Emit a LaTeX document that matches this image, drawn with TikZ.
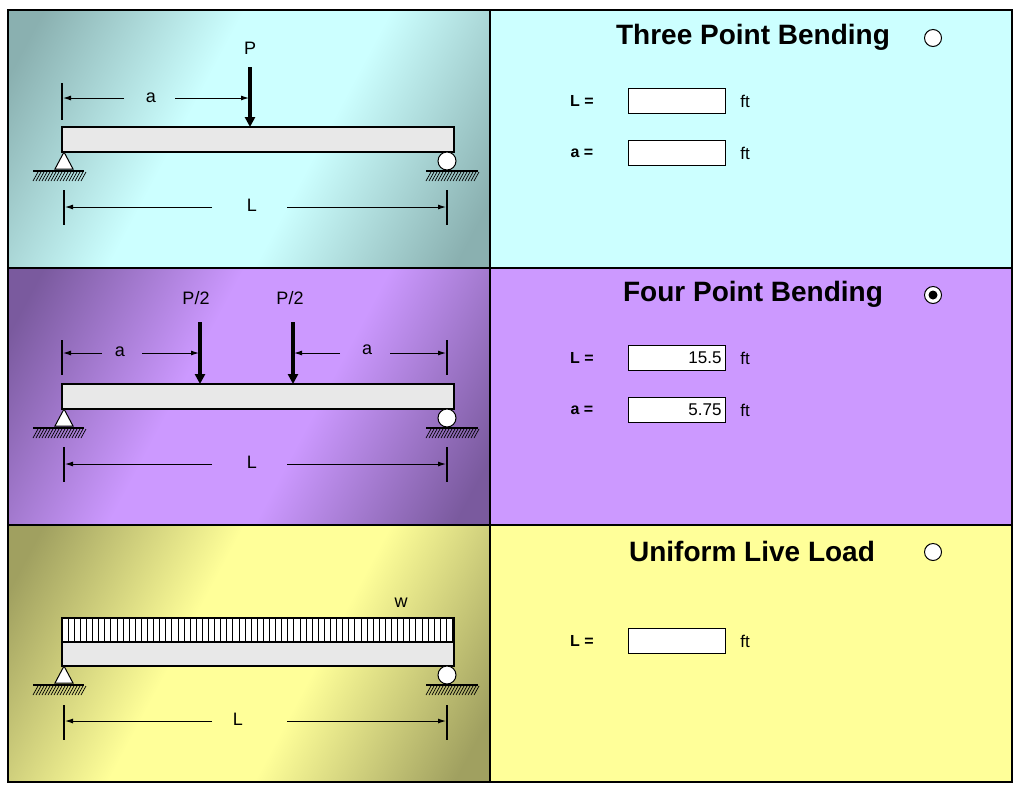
\documentclass[tikz,border=0pt]{standalone}
\usepackage{fontspec}
\setmainfont{Liberation Sans}
\usetikzlibrary{arrows.meta}
\definecolor{cyR}{HTML}{CCFFFF}
\definecolor{cyD}{HTML}{8AB0B0}
\definecolor{puR}{HTML}{CC99FF}
\definecolor{puD}{HTML}{7A5A9E}
\definecolor{yeR}{HTML}{FFFF99}
\definecolor{yeD}{HTML}{A0A060}
\pgfdeclarehorizontalshading{cyS}{100bp}{color(0bp)=(cyD); color(20bp)=(cyD); color(42bp)=(cyR); color(58bp)=(cyR); color(80bp)=(cyD); color(100bp)=(cyD)}
\pgfdeclarehorizontalshading{puS}{100bp}{color(0bp)=(puD); color(20bp)=(puD); color(42bp)=(puR); color(58bp)=(puR); color(80bp)=(puD); color(100bp)=(puD)}
\pgfdeclarehorizontalshading{yeS}{100bp}{color(0bp)=(yeD); color(20bp)=(yeD); color(42bp)=(yeR); color(58bp)=(yeR); color(80bp)=(yeD); color(100bp)=(yeD)}
\tikzset{
 beam/.style={draw=black,fill=gray!18,line width=1.2pt},
 dim/.style={line width=1pt,-{Latex[length=8pt,width=5pt]}},
 tick/.style={line width=1.2pt},
 load/.style={line width=4pt,-{Triangle[length=10pt,width=10pt]}},
 lbl/.style={font=\fontsize{18}{19}\selectfont,fill=none},
 title/.style={font=\bfseries\fontsize{28}{30}\selectfont},
 flab/.style={font=\bfseries\fontsize{16}{18}\selectfont},
 box/.style={draw=black,fill=white,line width=0.8pt,minimum width=97pt,minimum height=25pt,inner sep=3pt,font=\fontsize{17}{18}\selectfont},
 unit/.style={font=\fontsize{17}{18}\selectfont},
 radio/.style={circle,draw=black,fill=white,line width=1pt,minimum size=17pt,inner sep=0pt},
}
\newcommand{\pinsup}[2]{% x, y top
 \draw[fill=white,line width=1pt] (#1,#2) -- (#1-9,#2+17) -- (#1+9,#2+17) -- cycle;
 \draw[line width=1.2pt] (#1-31,#2+19) -- (#1+20,#2+19);
 \foreach \k in {0,...,16} \draw[line width=0.7pt] (#1-31+3*\k,#2+29) -- (#1-31+3*\k+5,#2+20);}
\newcommand{\rollsup}[2]{% x, y top
 \draw[fill=white,line width=1pt] (#1,#2+9) circle (9);
 \draw[line width=1.2pt] (#1-21,#2+19) -- (#1+31,#2+19);
 \foreach \k in {0,...,16} \draw[line width=0.7pt] (#1-21+3*\k,#2+29) -- (#1-21+3*\k+5,#2+20);}
\begin{document}
\begin{tikzpicture}[x=1pt,y=-1pt]
\useasboundingbox (0,0) rectangle (1024,796);
\fill[white] (0,0) rectangle (1024,796);
% backgrounds
\fill[cyR] (490,10) rectangle (1012,268);
\fill[puR] (490,268) rectangle (1012,525);
\fill[yeR] (490,525) rectangle (1012,782);
\shade[shading=cyS,shading angle=-28] (8,10) rectangle (490,268);
\shade[shading=puS,shading angle=-28] (8,268) rectangle (490,525);
\shade[shading=yeS,shading angle=-28] (8,525) rectangle (490,782);
\draw[line width=1.2pt] (8,10) rectangle (1012,782);
\draw[line width=1.5pt] (490,10) -- (490,782) (8,268) -- (1012,268) (8,525) -- (1012,525);
% ---- panel 1
\draw[beam] (62,127) rectangle (454,152);
\pinsup{64}{152}
\rollsup{447}{152}
\node[lbl] (P1) at (250,48) {P};
\coordinate (P1s) at (250,67); \coordinate (P1e) at (250,127);
\draw[load] (P1s) -- (P1e);
\draw[tick] (62,83) -- (62,120);
\node[lbl] (a1) at (151,98) {a};
\draw[dim] (124,98) -- (63,98);
\draw[dim] (175,98) -- (249,98);
\draw[tick] (64,190) -- (64,225) (447,190) -- (447,225);
\node[lbl] (L1) at (252,205) {L};
\draw[dim] (212,207) -- (65,207);
\draw[dim] (287,207) -- (446,207);
% ---- panel 2
\draw[beam] (62,384) rectangle (454,409);
\pinsup{64}{409}
\rollsup{447}{409}
\node[lbl] (P2a) at (196,298) {P/2};
\node[lbl] (P2b) at (290,298) {P/2};
\draw[load] (200,322) -- (200,384);
\draw[load] (293,322) -- (293,384);
\draw[tick] (62,340) -- (62,375) (447,340) -- (447,375);
\node[lbl] (a2) at (120,352) {a};
\draw[dim] (102,353) -- (63,353);
\draw[dim] (142,353) -- (199,353);
\node[lbl] (a3) at (367,350) {a};
\draw[dim] (340,353) -- (294,353);
\draw[dim] (390,353) -- (446,353);
\draw[tick] (64,447) -- (64,482) (447,447) -- (447,482);
\node[lbl] (L2) at (252,462) {L};
\draw[dim] (212,464) -- (65,464);
\draw[dim] (287,464) -- (446,464);
% ---- panel 3
\draw[fill=white,line width=1.2pt] (62,618) rectangle (454,642);
\foreach \i in {1,...,64} \draw[line width=0.8pt] (62+6.1*\i,618) -- (62+6.1*\i,642);
\draw[beam] (62,642) rectangle (454,666);
\pinsup{64}{666}
\rollsup{447}{666}
\node[lbl] (w) at (401,603) {w};
\draw[tick] (64,705) -- (64,740) (447,705) -- (447,740);
\node[lbl] (L3) at (238,719) {L};
\draw[dim] (212,721) -- (65,721);
\draw[dim] (287,721) -- (446,721);
% ---- right side
\node[title] (t1) at (753,37) {Three Point Bending};
\node[radio] (r1) at (933,38) {};
\node[flab] (l1) at (582,101) {L =};
\node[box] (b1) at (676.5,100.5) {};
\node[unit] (u1) at (745,101) {ft};
\node[flab] (l2) at (582,153) {a =};
\node[box] (b2) at (676.5,152.5) {};
\node[unit] (u2) at (745,153) {ft};
\node[title] (t2) at (753,294) {Four Point Bending};
\node[radio] (r2) at (933,295) {};
\fill (r2.center) circle (4.5);
\node[flab] (l3) at (582,358) {L =};
\node[box,align=right,text width=90pt] (b3) at (676.5,357.5) {15.5};
\node[unit] (u3) at (745,358) {ft};
\node[flab] (l4) at (582,410) {a =};
\node[box,align=right,text width=90pt] (b4) at (676.5,409.5) {5.75};
\node[unit] (u4) at (745,410) {ft};
\node[title] (t3) at (752,551) {Uniform Live Load};
\node[radio] (r3) at (933,552) {};
\node[flab] (l5) at (582,641) {L =};
\node[box] (b5) at (676.5,640.5) {};
\node[unit] (u5) at (745,641) {ft};
\end{tikzpicture}
\end{document}
